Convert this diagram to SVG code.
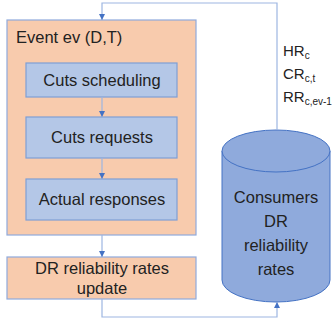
<svg xmlns="http://www.w3.org/2000/svg" width="332" height="324" viewBox="0 0 332 324">
  <style>
    .orange { fill: #F8CBAD; stroke: #8FAADC; stroke-width: 1.2; }
    .step { fill: #B4C7E7; stroke: #7F9FD6; stroke-width: 1.2; }
    .db { fill: #8FAADC; stroke: #4472C4; stroke-width: 1; }
    .wire { fill: none; stroke: #9DB6E2; stroke-width: 1.2; }
    text { font-family: "Liberation Sans", Arial, sans-serif; fill: #222222; }
    .label { font-size: 16.5px; text-anchor: middle; }
    .var { font-size: 15px; }
    .sub { font-size: 10px; }
  </style>
  <defs>
    <marker id="arrow" viewBox="0 0 10 10" refX="10" refY="5" markerWidth="6" markerHeight="6" markerUnits="userSpaceOnUse" orient="auto">
      <path d="M0,0 L10,5 L0,10 z" fill="#4472C4"/>
    </marker>
  </defs>

  <rect width="332" height="324" fill="#ffffff"/>

  <!-- event container -->
  <g id="event">
    <rect class="orange" x="7" y="20" width="189" height="215"/>
    <text x="16" y="43" font-size="16.5">Event ev (D,T)</text>
  </g>

  <g id="cuts-scheduling">
    <rect class="step" x="26" y="63" width="151" height="34"/>
    <text class="label" x="102" y="86">Cuts scheduling</text>
  </g>

  <g id="cuts-requests">
    <rect class="step" x="26" y="117" width="151" height="41"/>
    <text class="label" x="102" y="143">Cuts requests</text>
  </g>

  <g id="actual-responses">
    <rect class="step" x="26" y="179" width="151" height="41"/>
    <text class="label" x="102" y="205">Actual responses</text>
  </g>

  <g id="rates-update">
    <rect class="orange" x="7" y="257" width="189" height="42"/>
    <text class="label" x="102" y="274">DR reliability rates</text>
    <text class="label" x="102" y="294">update</text>
  </g>

  <!-- consumer reliability store -->
  <g id="consumers-db">
    <path class="db" d="M222,151 L222,280 A54,22 0 0 0 330,280 L330,151"/>
    <ellipse class="db" cx="276" cy="151" rx="54" ry="21"/>
    <text class="label" x="276" y="203">Consumers</text>
    <text class="label" x="276" y="227">DR</text>
    <text class="label" x="276" y="251">reliability</text>
    <text class="label" x="276" y="275">rates</text>
  </g>

  <g id="connectors">
    <path class="wire" d="M277,130 L277,3 L102,3 L102,20" marker-end="url(#arrow)"/>
    <path class="wire" d="M102,97 L102,117" marker-end="url(#arrow)"/>
    <path class="wire" d="M102,158 L102,179" marker-end="url(#arrow)"/>
    <path class="wire" d="M102,235 L102,257" marker-end="url(#arrow)"/>
    <path class="wire" d="M102,299 L102,317 L277,317 L277,302" marker-end="url(#arrow)"/>
  </g>

  <g id="variables">
    <text class="var" x="283" y="56">HR<tspan class="sub" dy="3">c</tspan></text>
    <text class="var" x="283" y="79">CR<tspan class="sub" dy="3">c,t</tspan></text>
    <text class="var" x="283" y="102">RR<tspan class="sub" dy="3">c,ev-1</tspan></text>
  </g>
</svg>
